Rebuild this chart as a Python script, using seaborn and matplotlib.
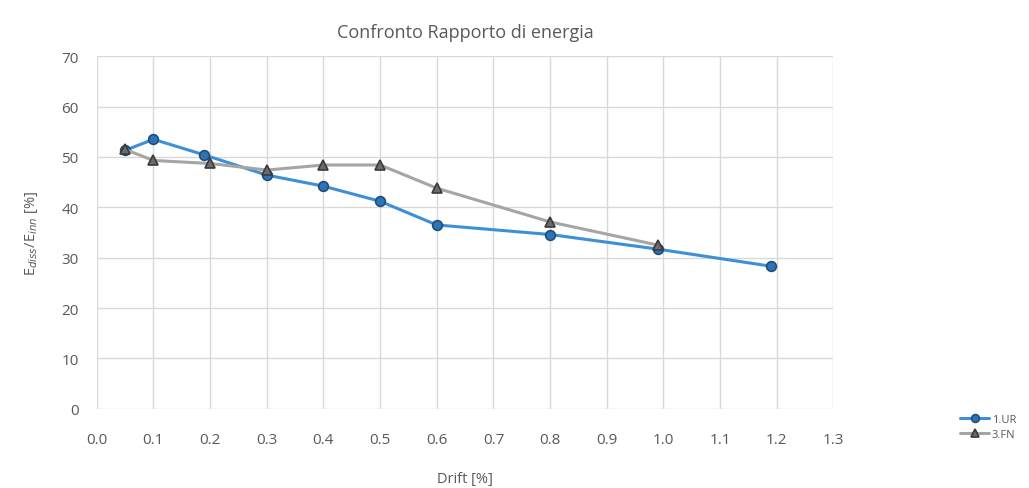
import matplotlib
matplotlib.use("Agg")
import matplotlib.pyplot as plt
import seaborn as sns
import pandas as pd

ur_drift = [0.05, 0.10, 0.19, 0.30, 0.40, 0.50, 0.60, 0.80, 0.99, 1.19]
ur_ratio = [51.3, 53.5, 50.4, 46.4, 44.2, 41.2, 36.5, 34.6, 31.7, 28.3]
fn_drift = [0.05, 0.10, 0.20, 0.30, 0.40, 0.50, 0.60, 0.80, 0.99]
fn_ratio = [51.5, 49.3, 48.7, 47.4, 48.4, 48.4, 43.8, 37.1, 32.5]
series_names = ["1.UR", "3.FN"]
xticks = [round(0.1 * i, 1) for i in range(14)]
yticks = list(range(0, 71, 10))

df = pd.concat([
    pd.DataFrame({"Drift": ur_drift, "Ratio": ur_ratio, "Serie": series_names[0]}),
    pd.DataFrame({"Drift": fn_drift, "Ratio": fn_ratio, "Serie": series_names[1]}),
])

sns.set_theme(style="white")
plt.rcParams["font.family"] = ["Open Sans", "DejaVu Sans"]
txt = "#595959"

fig = plt.figure(figsize=(10.29, 4.89), dpi=100)
ax = fig.add_axes([0.094, 0.162, 0.716, 0.721])

colors = {"1.UR": "#3d8fd8", "3.FN": "#a5a5a5"}
mfc = {"1.UR": "#2e74b5", "3.FN": "#6b6b6b"}
mec = {"1.UR": "#1f4e79", "3.FN": "#3a3a3a"}
markers = {"1.UR": "o", "3.FN": "^"}
for name in series_names:
    sub = df[df["Serie"] == name]
    sns.lineplot(data=sub, x="Drift", y="Ratio", ax=ax, color=colors[name],
                 linewidth=2.2, marker=markers[name], markersize=7,
                 markerfacecolor=mfc[name], markeredgecolor=mec[name],
                 markeredgewidth=1.2, label=name, sort=False)

ax.set_xlim(0, 1.3)
ax.set_ylim(0, 70)
ax.set_xticks(xticks)
ax.set_xticklabels([f"{t:.1f}" for t in xticks])
ax.set_yticks(yticks)
ax.grid(True, color="#d9d9d9", linewidth=1)
for s in ax.spines.values():
    s.set_visible(False)
ax.tick_params(axis="both", colors=txt, labelsize=11, length=0)
ax.tick_params(axis="x", pad=17)
ax.tick_params(axis="y", pad=13)
ax.set_xlabel("Drift [%]", color=txt, fontsize=10.5, labelpad=17)
ax.set_ylabel("E$_{diss}$/E$_{inn}$ [%]", color=txt, fontsize=10.5, labelpad=15)
ax.set_title("Confronto Rapporto di energia", color=txt, fontsize=13, pad=14)

leg = ax.legend(loc="center left", bbox_to_anchor=(0.928, 0.125),
                bbox_transform=fig.transFigure, frameon=False,
                fontsize=8, handlelength=2.6, labelspacing=0.35,
                handletextpad=0.2, markerscale=0.8, borderpad=0)
for t in leg.get_texts():
    t.set_color(txt)

fig.savefig("out.png", dpi=100)
